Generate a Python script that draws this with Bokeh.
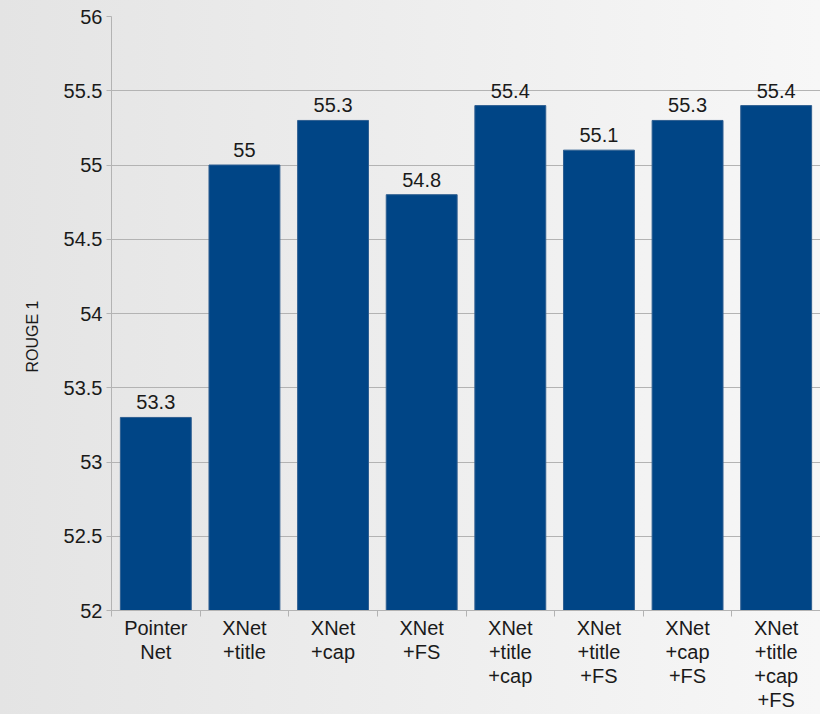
from bokeh.plotting import figure
from bokeh.models import ColumnDataSource, FixedTicker, NumeralTickFormatter, LabelSet, Title, Range1d
from bokeh.core.properties import value
from bokeh.embed import file_html
from bokeh.resources import INLINE

categories = ["Pointer\nNet", "XNet\n+title", "XNet\n+cap", "XNet\n+FS",
              "XNet\n+title\n+cap", "XNet\n+title\n+FS", "XNet\n+cap\n+FS",
              "XNet\n+title\n+cap\n+FS"]
values = [53.3, 55.0, 55.3, 54.8, 55.4, 55.1, 55.3, 55.4]
y_ticks = [52, 52.5, 53, 53.5, 54, 54.5, 55, 55.5, 56]
y_title = "ROUGE 1"

n = len(categories)
xs = [i + 0.5 for i in range(n)]
src = ColumnDataSource(dict(x=xs, top=values, label=[f"{v:g}" for v in values]))

FONT = "Liberation Sans"
TXT = "#1a1a1a"

p = figure(width=820, height=714, output_backend="svg", toolbar_location=None,
           x_range=Range1d(0, n), y_range=Range1d(y_ticks[0], y_ticks[-1]),
           min_border_left=111, min_border_top=16, min_border_right=0, min_border_bottom=104)
p.border_fill_color = None
p.background_fill_color = None
p.outline_line_color = None
p.styles = {"background": "linear-gradient(to right, #e4e4e4, #f7f7f7)"}

p.vbar(x="x", top="top", bottom=y_ticks[0], width=0.8, source=src,
       fill_color="#004586", line_color="#2f5f91", line_width=1)

labels = LabelSet(x="x", y="top", text="label", source=src, text_align="center",
                  text_baseline="alphabetic", y_offset=8, text_font_size=value("20px"),
                  text_font=value(FONT), text_color=TXT)
p.add_layout(labels)

# y-axis title, placed as in the reference (a little below the frame centre)
ytitle = Title(text=y_title, align="left", offset=238, text_font=FONT,
               text_font_size="16px", text_font_style="normal", text_color=TXT,
               standoff=40)
p.add_layout(ytitle, "left")

# x axis
p.xaxis.ticker = FixedTicker(ticks=xs, minor_ticks=list(range(n + 1)))
p.xaxis.major_label_overrides = {x: c for x, c in zip(xs, categories)}
p.xaxis.major_tick_out = 0
p.xaxis.major_tick_in = 0
p.xaxis.minor_tick_out = 6
p.xaxis.minor_tick_in = 0
p.xaxis.minor_tick_line_color = "#b3b3b3"
p.xaxis.axis_line_color = "#b3b3b3"
p.xaxis.major_label_text_font = FONT
p.xaxis.major_label_text_font_size = "20px"
p.xaxis.major_label_text_color = TXT
p.xaxis.major_label_text_line_height = 1.1
p.xaxis.major_label_standoff = 0
p.xgrid.grid_line_color = None

# y axis
p.yaxis.ticker = FixedTicker(ticks=y_ticks)
p.yaxis.formatter = NumeralTickFormatter(format="0.[0]")
p.yaxis.major_tick_out = 5
p.yaxis.major_tick_in = 0
p.yaxis.major_tick_line_color = "#b3b3b3"
p.yaxis.axis_line_color = "#b3b3b3"
p.yaxis.minor_tick_line_color = None
p.yaxis.major_label_text_font = FONT
p.yaxis.major_label_text_font_size = "20px"
p.yaxis.major_label_text_color = TXT
p.yaxis.major_label_standoff = 4
p.ygrid.grid_line_color = "#b3b3b3"
p.ygrid.ticker = FixedTicker(ticks=y_ticks)

open("out.html", "w").write(file_html(p, INLINE))
